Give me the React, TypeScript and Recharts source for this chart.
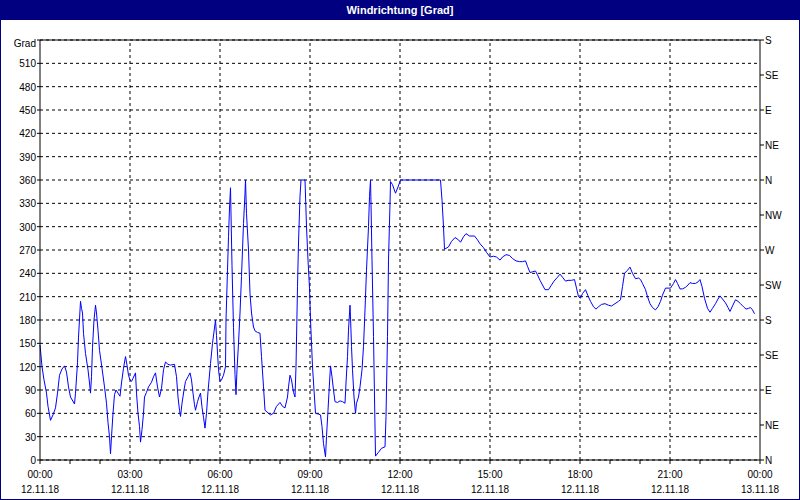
import { LineChart, Line, XAxis, YAxis, CartesianGrid, ReferenceLine } from "recharts";

// minutes after 00:00 on 12.11.18
const minutes = [
  0, 4, 8, 13, 16, 21, 26, 31, 35, 39, 44, 49, 53, 57, 61, 69, 71, 75, 77, 81,
  83, 85, 87, 91, 96, 99, 101, 103, 105, 108, 111, 113, 116, 119, 124, 129, 133, 136, 139, 141,
  143, 146, 149, 152, 156, 160, 163, 167, 171, 174, 177, 180, 183, 186, 191, 193, 196, 199, 201, 204,
  207, 209, 213, 217, 223, 227, 231, 235, 239, 243, 247, 251, 256, 261, 269, 273, 276, 279, 281, 284,
  288, 291, 296, 300, 303, 306, 309, 311, 315, 318, 321, 324, 327, 330, 333, 336, 341, 345, 351, 353,
  357, 360, 363, 367, 371, 372, 375, 377, 379, 381, 384, 387, 390, 392, 394, 397, 400, 403, 407, 410,
  411, 413, 417, 420, 423, 427, 430, 435, 440, 443, 447, 450, 457, 461, 467, 473, 480, 485, 490, 495,
  497, 500, 503, 507, 510, 512, 515, 517, 520, 522, 530, 533, 536, 539, 541, 543, 545, 548, 551, 557,
  561, 564, 567, 571, 573, 576, 579, 581, 584, 587, 590, 595, 600, 605, 610, 612, 615, 617, 620, 621,
  623, 625, 628, 631, 633, 637, 640, 644, 647, 650, 653, 657, 659, 661, 662, 664, 667, 669, 671, 677,
  683, 690, 692, 695, 697, 700, 701, 705, 711, 716, 721, 801, 804, 807, 809, 817, 823, 830, 837, 841,
  847, 852, 859, 869, 875, 880, 887, 893, 900, 907, 913, 920, 925, 932, 939, 945, 952, 959, 965, 971,
  975, 980, 985, 991, 995, 1000, 1005, 1010, 1017, 1022, 1028, 1035, 1040, 1045, 1051, 1056, 1063, 1069, 1073, 1077,
  1081, 1085, 1091, 1096, 1101, 1107, 1112, 1117, 1123, 1130, 1137, 1143, 1150, 1157, 1161, 1165, 1169, 1175, 1180, 1185,
  1191, 1197, 1201, 1205, 1211, 1215, 1220, 1225, 1231, 1236, 1241, 1245, 1251, 1256, 1261, 1267, 1271, 1275, 1280, 1285,
  1291, 1296, 1300, 1305, 1311, 1316, 1320, 1324, 1329, 1335, 1340, 1345, 1351, 1356, 1360, 1365, 1371, 1376, 1380, 1385,
  1391, 1396, 1401, 1407, 1412, 1417, 1421, 1425, 1429,
];

const degrees = [
  148, 120, 103, 86, 69, 51, 58, 67, 86, 109, 117, 121, 113, 94, 81, 72, 86, 125, 158, 204,
  195, 189, 163, 137, 116, 99, 86, 107, 145, 180, 199, 189, 167, 141, 118, 94, 73, 48, 30, 8,
  30, 60, 84, 90, 86, 82, 99, 118, 133, 122, 109, 103, 101, 105, 112, 86, 60, 43, 23, 39,
  60, 81, 87, 94, 100, 107, 112, 94, 81, 92, 116, 126, 123, 122, 123, 107, 81, 64, 56, 73,
  90, 101, 107, 112, 103, 86, 71, 64, 75, 81, 86, 68, 55, 41, 60, 88, 124, 150, 180, 160,
  116, 101, 103, 109, 120, 180, 244, 287, 324, 350, 250, 170, 110, 84, 116, 150, 189, 236, 304, 343,
  360, 317, 270, 214, 189, 171, 166, 164, 163, 133, 94, 64, 60, 58, 60, 69, 74, 69, 67, 81,
  94, 109, 103, 87, 81, 120, 223, 279, 339, 360, 360, 300, 257, 221, 180, 150, 120, 90, 60, 59,
  58, 43, 21, 4, 30, 64, 99, 121, 107, 90, 75, 74, 76, 75, 73, 99, 133, 167, 199, 184,
  146, 116, 81, 60, 73, 81, 94, 116, 146, 193, 244, 300, 339, 360, 330, 257, 159, 81, 5, 10,
  15, 17, 56, 159, 257, 330, 358, 354, 343, 351, 360, 360, 334, 300, 271, 274, 281, 286, 283, 280,
  287, 291, 288, 288, 283, 278, 273, 267, 261, 262, 261, 257, 261, 264, 263, 259, 256, 255, 255, 256,
  249, 241, 242, 243, 238, 231, 225, 219, 219, 224, 230, 235, 239, 235, 230, 231, 231, 232, 221, 210,
  208, 214, 219, 211, 204, 197, 194, 197, 200, 201, 199, 198, 201, 204, 206, 223, 240, 244, 248, 240,
  233, 234, 232, 227, 219, 210, 201, 196, 193, 197, 204, 212, 221, 221, 221, 227, 232, 227, 220, 220,
  222, 225, 228, 227, 227, 229, 232, 223, 208, 195, 190, 195, 201, 207, 211, 207, 202, 196, 191, 198,
  206, 204, 201, 197, 194, 195, 196, 193, 188,
];

const hourTicks = [0, 60, 120, 180, 240, 300, 360, 420, 480, 540, 600, 660, 720, 780, 840, 900, 960, 1020, 1080, 1140, 1200, 1260, 1320, 1380, 1440];
const labelTicks = [0, 180, 360, 540, 720, 900, 1080, 1260, 1440];
const timeLabels = ["00:00", "03:00", "06:00", "09:00", "12:00", "15:00", "18:00", "21:00", "00:00"];
const dateLabels = ["12.11.18", "12.11.18", "12.11.18", "12.11.18", "12.11.18", "12.11.18", "12.11.18", "12.11.18", "13.11.18"];

const gradTicks = [0, 30, 60, 90, 120, 150, 180, 210, 240, 270, 300, 330, 360, 390, 420, 450, 480, 510, 540];
const dirTicks = [0, 45, 90, 135, 180, 225, 270, 315, 360, 405, 450, 495, 540];
const dirLabels = ["N", "NE", "E", "SE", "S", "SW", "W", "NW", "N", "NE", "E", "SE", "S"];

const data = minutes.map((m, i) => ({ t: m, deg: degrees[i] }));

const FONT = '"Liberation Sans", Arial, sans-serif';

const TimeTick = (props: any) => {
  const { x, y, payload } = props;
  const i = labelTicks.indexOf(payload.value);
  if (i < 0) return null;
  return (
    <g>
      <text x={x} y={y + 12} textAnchor="middle" fontSize={10} fontFamily={FONT} fill="#000">
        {timeLabels[i]}
      </text>
      <text x={x} y={y + 27} textAnchor="middle" fontSize={10} fontFamily={FONT} fill="#000">
        {dateLabels[i]}
      </text>
    </g>
  );
};

const GradTick = (props: any) => {
  const { x, y, payload } = props;
  const v = payload.value;
  return (
    <text x={x} y={y + (v === 540 ? 7 : 4)} textAnchor="end" fontSize={10} fontFamily={FONT} fill="#000">
      {v === 540 ? "Grad" : String(v)}
    </text>
  );
};

const DirTick = (props: any) => {
  const { x, y, payload } = props;
  return (
    <text x={x} y={y + 4} textAnchor="start" fontSize={10} fontFamily={FONT} fill="#000">
      {dirLabels[dirTicks.indexOf(payload.value)]}
    </text>
  );
};

export default function App() {
  return (
    <div
      style={{
        position: "absolute",
        left: 0,
        top: 0,
        width: 800,
        height: 500,
        boxSizing: "border-box",
        border: "1px solid #000080",
        background: "#fff",
        fontFamily: FONT,
      }}
    >
      <div
        style={{
          position: "absolute",
          left: 0,
          top: 0,
          right: 0,
          height: 19,
          background: "#000080",
          color: "#fff",
          fontSize: 11,
          fontWeight: "bold",
          textAlign: "center",
          lineHeight: "19px",
        }}
      >
        Windrichtung [Grad]
      </div>
      <div style={{ position: "absolute", left: -1, top: -1 }}>
        <LineChart width={800} height={500} data={data} margin={{ top: 40, right: 0, left: 0, bottom: 0 }}>
          <CartesianGrid vertical={false} stroke="#000" strokeDasharray="3 3" yAxisId="grad" />
          <XAxis
            dataKey="t"
            type="number"
            domain={[0, 1440]}
            ticks={hourTicks}
            interval={0}
            height={40}
            tickSize={4}
            tickMargin={2}
            stroke="#000"
            tick={<TimeTick />}
          />
          <YAxis
            yAxisId="grad"
            domain={[0, 540]}
            ticks={gradTicks}
            interval={0}
            width={40}
            tickSize={3}
            tickMargin={1}
            stroke="#000"
            tick={<GradTick />}
          />
          <YAxis
            yAxisId="dir"
            orientation="right"
            domain={[0, 540]}
            ticks={dirTicks}
            interval={0}
            width={40}
            tickSize={4}
            tickMargin={1}
            stroke="#000"
            tick={<DirTick />}
          />
          {labelTicks.slice(1, -1).map((t) => (
            <ReferenceLine key={t} x={t} yAxisId="grad" stroke="#000" strokeDasharray="3 3" />
          ))}
          <ReferenceLine y={540} yAxisId="grad" stroke="#000" />
          <Line
            yAxisId="dir"
            dataKey="deg"
            type="linear"
            stroke="none"
            dot={false}
            activeDot={false}
            isAnimationActive={false}
          />
          <Line
            yAxisId="grad"
            dataKey="deg"
            type="linear"
            stroke="#0000ff"
            strokeWidth={1}
            dot={false}
            isAnimationActive={false}
          />
        </LineChart>
      </div>
    </div>
  );
}
